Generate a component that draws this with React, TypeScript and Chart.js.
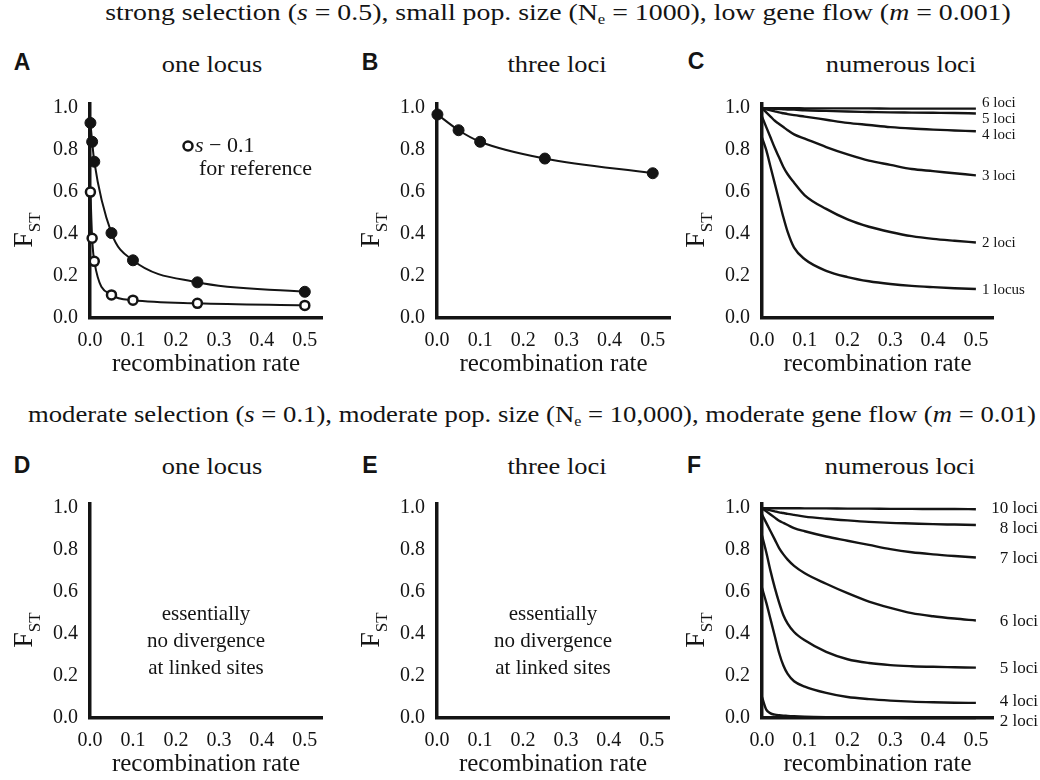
import React, { useEffect, useRef } from 'react';
import { Chart, registerables } from 'chart.js';

Chart.register(...registerables);

const SERIF = '"Liberation Serif", "Times New Roman", serif';
const SANS = '"Liberation Sans", Arial, sans-serif';
const INK = '#141414';

// ---------------- data ----------------
const xTicks = [0, 0.1, 0.2, 0.3, 0.4, 0.5];
const yTicks = [0, 0.2, 0.4, 0.6, 0.8, 1.0];
const X_MAX = 0.54;
const Y_MAX = 1.02;
const xTitle = 'recombination rate';

// Panel A (one locus, strong selection) + s = 0.1 reference
const recombA = [0.001, 0.005, 0.01, 0.05, 0.1, 0.25, 0.5];
const fstAStrong = [0.93, 0.84, 0.745, 0.405, 0.275, 0.17, 0.125];
const fstARef = [0.6, 0.38, 0.27, 0.11, 0.085, 0.07, 0.06];

// Panel B (three loci)
const recombB = [0.001, 0.05, 0.1, 0.25, 0.5];
const fstB = [0.97, 0.895, 0.84, 0.76, 0.69];

// Panels C and F (numerous loci) share the recombination grid
const recombCurve = [0, 0.01, 0.02, 0.03, 0.04, 0.05, 0.06, 0.075, 0.1, 0.15, 0.2, 0.25, 0.3, 0.35, 0.4, 0.45, 0.5];

const labelsC = ['6 loci', '5 loci', '4 loci', '3 loci', '2 loci', '1 locus'];
const fstC6 = [1.0, 1.0, 1.0, 1.0, 1.0, 1.0, 1.0, 1.0, 0.999, 0.999, 0.999, 0.999, 0.998, 0.998, 0.998, 0.998, 0.998];
const fstC5 = [1.0, 0.999, 0.998, 0.997, 0.996, 0.995, 0.994, 0.993, 0.99, 0.987, 0.984, 0.982, 0.98, 0.979, 0.978, 0.977, 0.975];
const fstC4 = [1.0, 0.995, 0.99, 0.985, 0.98, 0.976, 0.972, 0.967, 0.96, 0.945, 0.93, 0.92, 0.91, 0.903, 0.898, 0.894, 0.89];
const fstC3 = [1.0, 0.98, 0.96, 0.94, 0.925, 0.91, 0.895, 0.875, 0.855, 0.815, 0.78, 0.75, 0.73, 0.71, 0.7, 0.69, 0.68];
const fstC2 = [0.96, 0.91, 0.86, 0.81, 0.765, 0.72, 0.685, 0.645, 0.585, 0.52, 0.47, 0.435, 0.41, 0.39, 0.377, 0.368, 0.36];
const fstC1 = [0.86, 0.8, 0.72, 0.64, 0.56, 0.48, 0.41, 0.335, 0.28, 0.225, 0.195, 0.175, 0.162, 0.153, 0.147, 0.142, 0.138];

const labelsF = ['10 loci', '8 loci', '7 loci', '6 loci', '5 loci', '4 loci', '2 loci'];
const fstF10 = [1.0, 1.0, 1.0, 1.0, 1.0, 1.0, 1.0, 1.0, 0.999, 0.999, 0.998, 0.998, 0.997, 0.997, 0.996, 0.996, 0.995];
const fstF8 = [1.0, 0.995, 0.99, 0.985, 0.98, 0.977, 0.973, 0.968, 0.96, 0.95, 0.942, 0.935, 0.93, 0.927, 0.924, 0.922, 0.92];
const fstF7 = [1.0, 0.985, 0.97, 0.955, 0.94, 0.93, 0.92, 0.905, 0.89, 0.865, 0.845, 0.825, 0.805, 0.79, 0.78, 0.772, 0.765];
const fstF6 = [0.97, 0.93, 0.89, 0.85, 0.81, 0.78, 0.755, 0.725, 0.69, 0.64, 0.595, 0.555, 0.525, 0.5, 0.485, 0.474, 0.465];
const fstF5 = [0.87, 0.79, 0.7, 0.62, 0.55, 0.49, 0.45, 0.41, 0.37, 0.315, 0.28, 0.262, 0.252, 0.247, 0.244, 0.242, 0.24];
const fstF4 = [0.62, 0.55, 0.47, 0.39, 0.31, 0.25, 0.21, 0.175, 0.15, 0.12, 0.1, 0.09, 0.083, 0.078, 0.075, 0.073, 0.072];
const fstF2 = [0.1, 0.04, 0.022, 0.016, 0.013, 0.011, 0.01, 0.008, 0.006, 0.004, 0.003, 0.002, 0.001, 0.0, 0.0, 0.0, 0.0];

const noteLines = ['essentially', 'no divergence', 'at linked sites'];
const legendText = ['s', ' \u2212 0.1', 'for reference'];

// ---------------- helpers ----------------
const pts = (xs: number[], ys: number[]) => xs.map((x, i) => ({ x, y: ys[i] }));

function curveSet(label: string, ys: number[], width = 2.4) {
  return {
    label,
    data: pts(recombCurve, ys),
    borderColor: INK,
    borderWidth: width,
    pointRadius: 0,
    cubicInterpolationMode: 'monotone',
    fill: false,
    clip: false,
  };
}

const fstPlugin = {
  id: 'fstTitle',
  afterDraw(chart: any) {
    const { ctx, chartArea } = chart;
    const cx = chartArea.left - 68;
    const cy = chartArea.top + 126;
    ctx.save();
    ctx.translate(cx, cy);
    ctx.rotate(-Math.PI / 2);
    ctx.fillStyle = INK;
    ctx.textBaseline = 'alphabetic';
    ctx.textAlign = 'left';
    ctx.font = `28px ${SERIF}`;
    const wF = ctx.measureText('F').width;
    ctx.font = `17px ${SERIF}`;
    const wS = ctx.measureText('ST').width;
    const start = -(wF + wS) / 2;
    ctx.font = `28px ${SERIF}`;
    ctx.fillText('F', start, 10);
    ctx.font = `17px ${SERIF}`;
    ctx.fillText('ST', start + wF, 18);
    ctx.restore();
  },
};

const legendAPlugin = {
  id: 'legendA',
  afterDraw(chart: any) {
    const { ctx, chartArea: ca } = chart;
    const cx = ca.left + 98;
    const cy = ca.top + 42;
    ctx.save();
    ctx.beginPath();
    ctx.arc(cx, cy, 4.5, 0, Math.PI * 2);
    ctx.fillStyle = '#fff';
    ctx.fill();
    ctx.lineWidth = 2.5;
    ctx.strokeStyle = INK;
    ctx.stroke();
    ctx.fillStyle = INK;
    ctx.textBaseline = 'middle';
    ctx.textAlign = 'left';
    ctx.font = `italic 22px ${SERIF}`;
    ctx.fillText(legendText[0], cx + 7, cy);
    const ws = ctx.measureText(legendText[0]).width;
    ctx.font = `22px ${SERIF}`;
    ctx.fillText(legendText[1], cx + 7 + ws, cy);
    ctx.fillText(legendText[2], cx + 11, cy + 23);
    ctx.restore();
  },
};

function notePlugin(lines: string[]) {
  return {
    id: 'note',
    afterDraw(chart: any) {
      const { ctx, chartArea: ca } = chart;
      ctx.save();
      ctx.fillStyle = INK;
      ctx.font = `21px ${SERIF}`;
      ctx.textAlign = 'center';
      ctx.textBaseline = 'middle';
      lines.forEach((l, i) => ctx.fillText(l, ca.left + 116, ca.top + 110 + i * 27));
      ctx.restore();
    },
  };
}

function endLabelPlugin(align: 'left' | 'right', offset: number, size: number, gap: number) {
  return {
    id: 'endLabels',
    afterDatasetsDraw(chart: any) {
      const { ctx, chartArea: ca, scales } = chart;
      const items = chart.data.datasets
        .map((ds: any) => {
          const last = ds.data[ds.data.length - 1];
          return { text: ds.label, y: scales.y.getPixelForValue(last.y) + 1 };
        })
        .sort((a: any, b: any) => a.y - b.y);
      let groups = items.map((it: any) => ({ members: [it], center: it.y }));
      let changed = true;
      while (changed) {
        changed = false;
        for (let i = 0; i < groups.length - 1; i++) {
          const a = groups[i];
          const b = groups[i + 1];
          const aBottom = a.center + ((a.members.length - 1) * gap) / 2;
          const bTop = b.center - ((b.members.length - 1) * gap) / 2;
          if (bTop - aBottom < gap) {
            const members = [...a.members, ...b.members];
            const center = members.reduce((s: number, m: any) => s + m.y, 0) / members.length;
            groups.splice(i, 2, { members, center });
            changed = true;
            break;
          }
        }
      }
      ctx.save();
      ctx.font = `${size}px ${SERIF}`;
      ctx.fillStyle = INK;
      ctx.textAlign = align;
      ctx.textBaseline = 'middle';
      const x = align === 'left' ? ca.left + offset : chart.width - offset;
      groups.forEach((g: any) =>
        g.members.forEach((m: any, i: number) =>
          ctx.fillText(m.text, x, g.center - ((g.members.length - 1) * gap) / 2 + i * gap)
        )
      );
      ctx.restore();
    },
  };
}

function baseOptions(padRight: number) {
  const tickFont = { family: SERIF, size: 20 };
  return {
    responsive: false,
    animation: false,
    events: [],
    layout: { padding: { left: 0, right: padRight, top: 18, bottom: 0 } },
    plugins: { legend: { display: false }, tooltip: { enabled: false }, title: { display: false } },
    scales: {
      x: {
        type: 'linear',
        min: 0,
        max: X_MAX,
        grid: { display: false, drawTicks: false, tickLength: 0 },
        border: { display: true, color: INK, width: 3.5 },
        afterBuildTicks: (s: any) => {
          s.ticks = xTicks.map((v) => ({ value: v }));
        },
        ticks: {
          padding: 11,
          color: INK,
          font: tickFont,
          maxRotation: 0,
          autoSkip: false,
          callback: (v: any) => Number(v).toFixed(1),
        },
        title: {
          display: true,
          text: xTitle,
          color: INK,
          font: { family: SERIF, size: 25 },
          padding: { top: 0, bottom: 1 },
        },
        afterFit: (s: any) => {
          s.height = 62;
        },
      },
      y: {
        type: 'linear',
        min: 0,
        max: Y_MAX,
        grid: { display: false, drawTicks: false, tickLength: 0 },
        border: { display: true, color: INK, width: 3.5 },
        afterBuildTicks: (s: any) => {
          s.ticks = yTicks.map((v) => ({ value: v }));
        },
        ticks: {
          padding: 12,
          color: INK,
          font: tickFont,
          callback: (v: any) => Number(v).toFixed(1),
        },
        afterFit: (s: any) => {
          s.width = 90;
        },
      },
    },
  };
}

// ---------------- chart configs ----------------
function configA() {
  return {
    type: 'line',
    data: {
      datasets: [
        {
          label: 's = 0.1',
          data: pts(recombA, fstARef),
          borderColor: INK,
          borderWidth: 2,
          cubicInterpolationMode: 'monotone',
          pointRadius: 4.5,
          pointBorderWidth: 2.5,
          pointBackgroundColor: '#fff',
          pointBorderColor: INK,
          clip: false,
        },
        {
          label: 's = 0.5',
          data: pts(recombA, fstAStrong),
          borderColor: INK,
          borderWidth: 2,
          cubicInterpolationMode: 'monotone',
          pointRadius: 5.5,
          pointBorderWidth: 1,
          pointBackgroundColor: INK,
          pointBorderColor: INK,
          clip: false,
        },
      ],
    },
    options: baseOptions(18),
    plugins: [fstPlugin, legendAPlugin],
  };
}

function configB() {
  return {
    type: 'line',
    data: {
      datasets: [
        {
          label: 'three loci',
          data: pts(recombB, fstB),
          borderColor: INK,
          borderWidth: 2,
          cubicInterpolationMode: 'monotone',
          pointRadius: 5.5,
          pointBorderWidth: 1,
          pointBackgroundColor: INK,
          pointBorderColor: INK,
          clip: false,
        },
      ],
    },
    options: baseOptions(17),
    plugins: [fstPlugin],
  };
}

function configC() {
  const series = [fstC6, fstC5, fstC4, fstC3, fstC2, fstC1];
  return {
    type: 'line',
    data: { datasets: series.map((s, i) => curveSet(labelsC[i], s)) },
    options: baseOptions(47),
    plugins: [fstPlugin, endLabelPlugin('left', 220, 15, 16)],
  };
}

function configEmpty() {
  return {
    type: 'line',
    data: { datasets: [] },
    options: baseOptions(18),
    plugins: [fstPlugin, notePlugin(noteLines)],
  };
}

function configF() {
  const series = [fstF10, fstF8, fstF7, fstF6, fstF5, fstF4, fstF2];
  return {
    type: 'line',
    data: { datasets: series.map((s, i) => curveSet(labelsF[i], s)) },
    options: baseOptions(47),
    plugins: [fstPlugin, endLabelPlugin('right', 2, 17, 20)],
  };
}

// ---------------- components ----------------
function Panel({ left, top, width, height, make }: any) {
  const ref = useRef<HTMLCanvasElement>(null);
  useEffect(() => {
    const chart = new Chart(ref.current as HTMLCanvasElement, make() as any);
    return () => chart.destroy();
  }, []);
  return (
    <canvas
      ref={ref}
      width={width}
      height={height}
      style={{ position: 'absolute', left, top, width, height, display: 'block' }}
    />
  );
}

function Txt({ x, y, size, sx = 1, bold = false, sans = false, children }: any) {
  return (
    <div
      style={{
        position: 'absolute',
        left: x,
        top: y,
        transform: `translate(-50%, -50%) scaleX(${sx})`,
        whiteSpace: 'nowrap',
        fontFamily: sans ? SANS : SERIF,
        fontSize: size,
        fontWeight: bold ? 700 : 400,
        lineHeight: 1.1,
        color: INK,
      }}
    >
      {children}
    </div>
  );
}

const subStyle = { fontSize: '0.6em', verticalAlign: '-0.3em' };

export default function App() {
  return (
    <div
      style={{
        position: 'absolute',
        left: 0,
        top: 0,
        width: 1040,
        height: 780,
        background: '#fff',
        overflow: 'hidden',
      }}
    >
      <Txt x={558} y={14} size={23} sx={1.21}>
        strong selection (<i>s</i> = 0.5), small pop. size (N<span style={subStyle}>e</span> = 1000), low gene
        flow (<i>m</i> = 0.001)
      </Txt>
      <Txt x={532} y={416} size={23} sx={1.16}>
        moderate selection (<i>s</i> = 0.1), moderate pop. size (N<span style={subStyle}>e</span> = 10,000),
        moderate gene flow (<i>m</i> = 0.01)
      </Txt>

      <Txt x={22} y={63} size={23} bold sans>A</Txt>
      <Txt x={370} y={63} size={23} bold sans>B</Txt>
      <Txt x={696} y={62} size={23} bold sans>C</Txt>
      <Txt x={22} y={466} size={23} bold sans>D</Txt>
      <Txt x={370} y={466} size={23} bold sans>E</Txt>
      <Txt x={694} y={466} size={23} bold sans>F</Txt>

      <Txt x={212} y={64} size={24} sx={1.1}>one locus</Txt>
      <Txt x={557} y={64} size={24} sx={1.1}>three loci</Txt>
      <Txt x={901} y={64} size={24} sx={1.1}>numerous loci</Txt>
      <Txt x={212} y={466} size={24} sx={1.1}>one locus</Txt>
      <Txt x={557} y={466} size={24} sx={1.1}>three loci</Txt>
      <Txt x={900} y={466} size={24} sx={1.1}>numerous loci</Txt>

      <Panel left={0} top={80} width={340} height={300} make={configA} />
      <Panel left={347} top={80} width={340} height={300} make={configB} />
      <Panel left={672} top={80} width={368} height={300} make={configC} />
      <Panel left={0} top={480} width={340} height={300} make={configEmpty} />
      <Panel left={347} top={480} width={340} height={300} make={configEmpty} />
      <Panel left={672} top={480} width={368} height={300} make={configF} />
    </div>
  );
}
